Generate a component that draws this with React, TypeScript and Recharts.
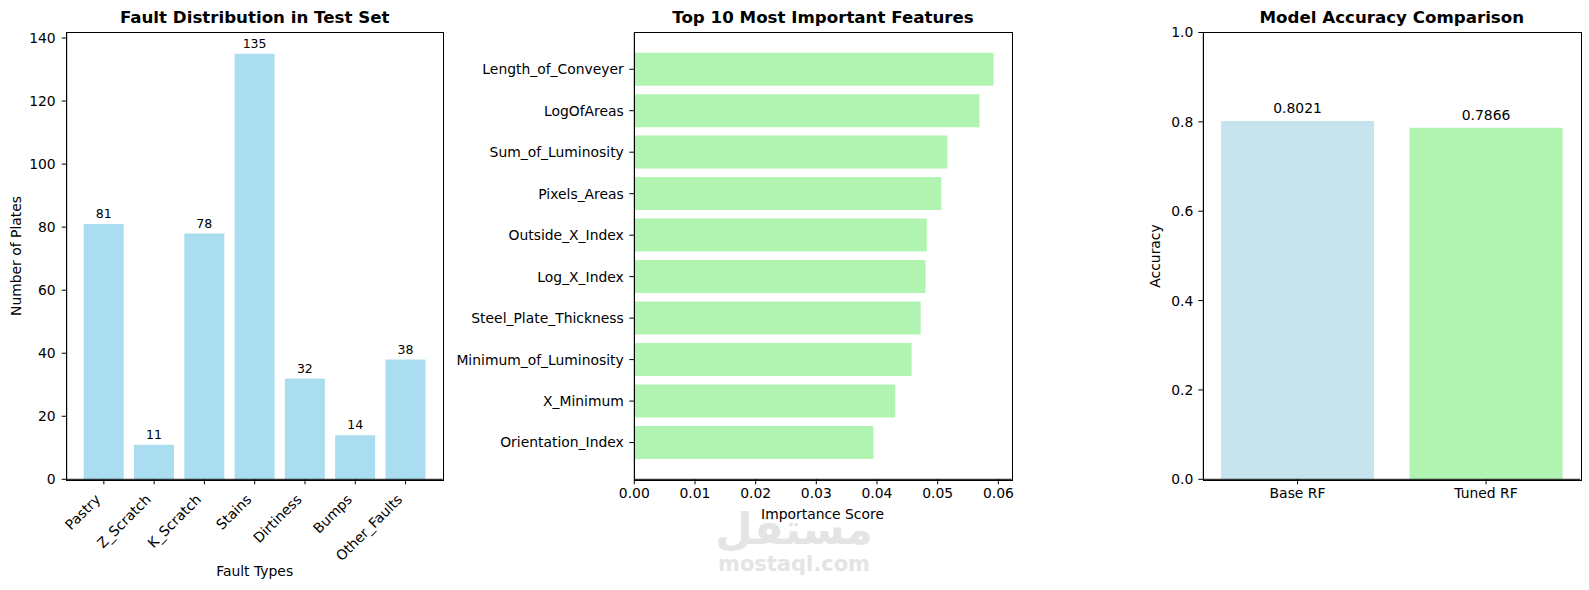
import { BarChart, Bar, XAxis, YAxis, LabelList, Cell } from 'recharts';

const FONT = '"DejaVu Sans", sans-serif';

const faultTypes = ['Pastry', 'Z_Scratch', 'K_Scratch', 'Stains', 'Dirtiness', 'Bumps', 'Other_Faults'];
const faultCounts = [81, 11, 78, 135, 32, 14, 38];
const countTicks = [0, 20, 40, 60, 80, 100, 120, 140];

const featureNames = [
  'Length_of_Conveyer', 'LogOfAreas', 'Sum_of_Luminosity', 'Pixels_Areas', 'Outside_X_Index',
  'Log_X_Index', 'Steel_Plate_Thickness', 'Minimum_of_Luminosity', 'X_Minimum', 'Orientation_Index',
];
const importances = [0.0592, 0.0569, 0.0516, 0.0506, 0.0482, 0.0480, 0.0472, 0.0457, 0.0430, 0.0394];
const importanceTicks = [0, 0.01, 0.02, 0.03, 0.04, 0.05, 0.06];

const models = ['Base RF', 'Tuned RF'];
const accuracies = [0.8021, 0.7866];
const accuracyTicks = [0, 0.2, 0.4, 0.6, 0.8, 1.0];

const SKY = '#abddf1';
const GREEN = '#b1f3b1';
const modelColors = ['#c6e4ee', GREEN];

const faultData = faultTypes.map((name, i) => ({ name, count: faultCounts[i] }));
const featureData = featureNames.map((name, i) => ({ name, score: importances[i] }));
const accuracyData = models.map((name, i) => ({ name, acc: accuracies[i] }));

const TICK_FS = 13.9;
const tickStyle = { fill: '#000', fontSize: TICK_FS, fontFamily: FONT };
const axisStroke = { stroke: '#000' };

function RotatedTick(props: any) {
  const { x, y, payload } = props;
  return (
    <g transform={`translate(${x - 2.4},${y + 14})`}>
      <text textAnchor="end" transform="rotate(-45)" fontSize={TICK_FS} fill="#000" fontFamily={FONT}>
        {payload.value}
      </text>
    </g>
  );
}

function Title({ text, cx }: { text: string; cx: number }) {
  return (
    <div style={{
      position: 'absolute', left: cx - 250, width: 500, top: 8, lineHeight: '20px',
      textAlign: 'center', fontWeight: 'bold', fontSize: 16.67, fontFamily: FONT, color: '#000',
    }}>{text}</div>
  );
}

function AxisLabel({ text, cx, cy, vertical }: { text: string; cx: number; cy: number; vertical?: boolean }) {
  return (
    <div style={{
      position: 'absolute', left: cx, top: cy, whiteSpace: 'nowrap', lineHeight: '16px',
      transform: `translate(-50%,-50%)${vertical ? ' rotate(-90deg)' : ''}`,
      fontSize: TICK_FS, fontFamily: FONT, color: '#000',
    }}>{text}</div>
  );
}

function Frame({ x1, y1, x2, y2 }: { x1: number; y1: number; x2: number; y2: number }) {
  return (
    <div style={{
      position: 'absolute', left: x1 - 0.5, top: y1 - 0.5, width: x2 - x1, height: y2 - y1,
      border: '1px solid #000', pointerEvents: 'none',
    }} />
  );
}

const TOP = 32.5;
const BOTTOM = 479.3;

export default function App() {
  return (
    <div style={{ position: 'absolute', left: 0, top: 0, width: 1589, height: 590, background: '#fff', overflow: 'hidden' }}>
      {/* watermark */}
      <div style={{
        position: 'absolute', left: 714, top: 501, width: 160, textAlign: 'center',
        fontSize: 43, fontWeight: 'bold', fontFamily: FONT, color: '#e4e4e4', lineHeight: '56px',
      }}>مستقل</div>
      <div style={{
        position: 'absolute', left: 704, top: 552, width: 180, textAlign: 'center',
        fontSize: 21, fontWeight: 'bold', fontFamily: FONT, color: '#e4e4e4', lineHeight: '24px',
      }}>mostaql.com</div>

      {/* panel 1 */}
      <div style={{ position: 'absolute', left: 0, top: 0 }}>
        <BarChart width={450} height={590} data={faultData}
          margin={{ top: TOP, right: 7.3, bottom: 0, left: 0 }} barCategoryGap="10%">
          <XAxis dataKey="name" type="category" interval={0} height={110.7}
            padding={{ left: 12, right: 12 }} tick={<RotatedTick />}
            axisLine={axisStroke} tickLine={axisStroke} tickSize={5} />
          <YAxis type="number" domain={[0, 141.75]} ticks={countTicks} width={66.7}
            tick={tickStyle} axisLine={axisStroke} tickLine={axisStroke} tickSize={5} tickMargin={6} />
          <Bar dataKey="count" fill={SKY} isAnimationActive={false}>
            <LabelList dataKey="count" position="top" offset={5.7} fill="#000" fontSize={12.5} fontFamily={FONT} />
          </Bar>
        </BarChart>
      </div>
      <Frame x1={66.7} y1={TOP} x2={442.7} y2={BOTTOM} />
      <Title text="Fault Distribution in Test Set" cx={254.7} />
      <AxisLabel text="Number of Plates" cx={16.2} cy={255.8} vertical />
      <AxisLabel text="Fault Types" cx={254.7} cy={571} />

      {/* panel 2 */}
      <div style={{ position: 'absolute', left: 440, top: 0 }}>
        <BarChart width={590} height={590} data={featureData} layout="vertical"
          margin={{ top: TOP, right: 18.3, bottom: 0, left: 0 }} barCategoryGap="10%">
          <XAxis type="number" domain={[0, 0.0622]} ticks={importanceTicks} height={110.7}
            tickFormatter={(v: number) => v.toFixed(2)} tick={tickStyle}
            axisLine={axisStroke} tickLine={axisStroke} tickSize={5} tickMargin={4} />
          <YAxis type="category" dataKey="name" interval={0} width={194.3}
            padding={{ top: 16, bottom: 16 }} tick={tickStyle}
            axisLine={axisStroke} tickLine={axisStroke} tickSize={5} tickMargin={5.5} />
          <Bar dataKey="score" fill={GREEN} isAnimationActive={false} />
        </BarChart>
      </div>
      <Frame x1={634.3} y1={TOP} x2={1011.7} y2={BOTTOM} />
      <Title text="Top 10 Most Important Features" cx={823} />
      <AxisLabel text="Importance Score" cx={822.5} cy={514} />

      {/* panel 3 */}
      <div style={{ position: 'absolute', left: 1120, top: 0 }}>
        <BarChart width={469} height={590} data={accuracyData}
          margin={{ top: TOP, right: 8.7, bottom: 0, left: 0 }} barCategoryGap="9.4%">
          <XAxis dataKey="name" type="category" height={110.7} tick={tickStyle}
            axisLine={axisStroke} tickLine={axisStroke} tickSize={5} tickMargin={4} />
          <YAxis type="number" domain={[0, 1]} ticks={accuracyTicks} width={83.3}
            tickFormatter={(v: number) => v.toFixed(1)} tick={tickStyle}
            axisLine={axisStroke} tickLine={axisStroke} tickSize={5} tickMargin={5} />
          <Bar dataKey="acc" isAnimationActive={false}>
            {accuracyData.map((d, i) => <Cell key={d.name} fill={modelColors[i]} />)}
            <LabelList dataKey="acc" position="top" offset={7.5} fill="#000" fontSize={TICK_FS} fontFamily={FONT}
              formatter={(v: any) => Number(v).toFixed(4)} />
          </Bar>
        </BarChart>
      </div>
      <Frame x1={1203.3} y1={TOP} x2={1580.3} y2={BOTTOM} />
      <Title text="Model Accuracy Comparison" cx={1391.8} />
      <AxisLabel text="Accuracy" cx={1155} cy={255.8} vertical />
    </div>
  );
}
